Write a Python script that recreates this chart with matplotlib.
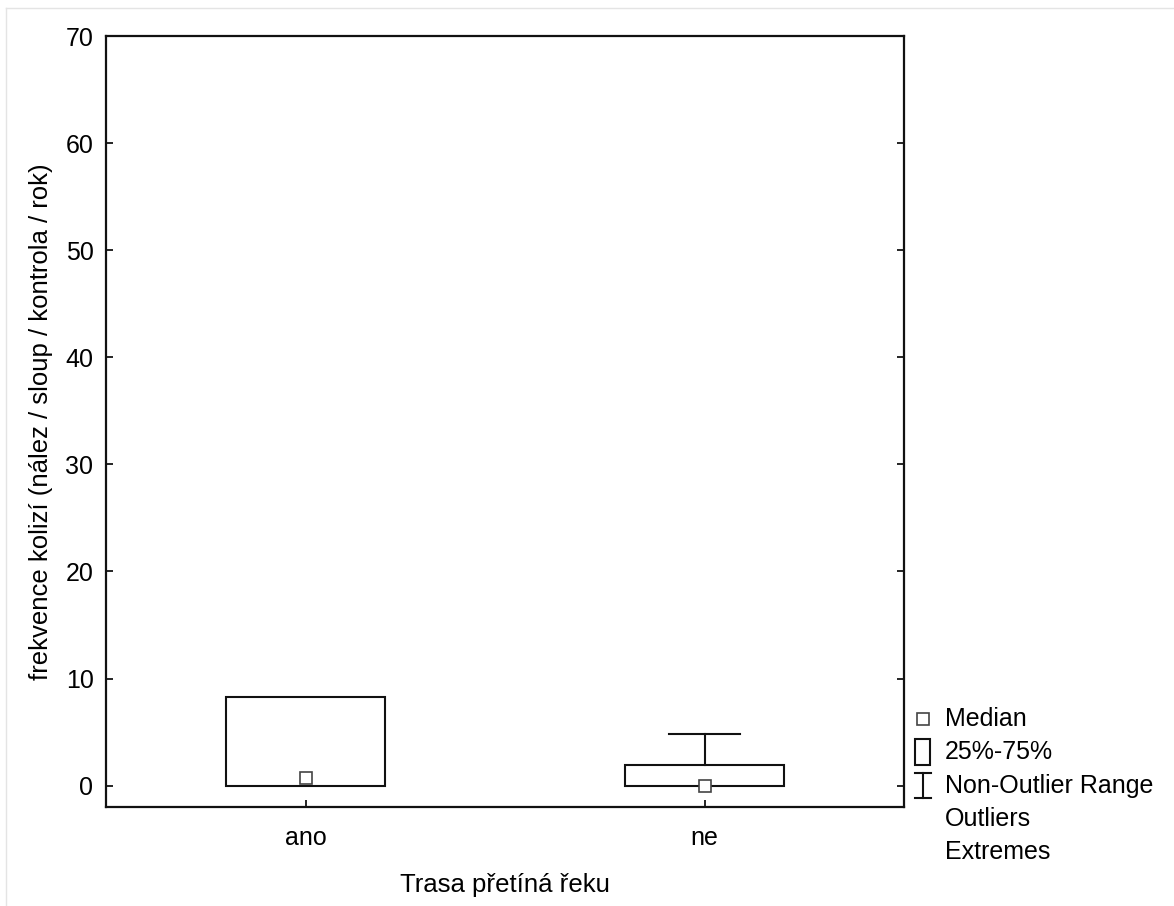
import numpy as np
import matplotlib
matplotlib.use("Agg")
import matplotlib.pyplot as plt
from matplotlib.lines import Line2D
from matplotlib.patches import Rectangle

plt.rcParams['font.family'] = ['Liberation Sans', 'DejaVu Sans']

# data
categories = ["ano", "ne"]
q25 = [0.0, 0.0]
q75 = [8.3, 1.9]
medians = [0.75, 0.0]
whisk_lo = [0.0, 0.0]
whisk_hi = [8.3, 4.8]

legend_labels = ["Median", "25%-75%", "Non-Outlier Range", "Outliers", "Extremes"]

fig = plt.figure(figsize=(11.74, 9.06), dpi=100)
ax = fig.add_axes([106/1174, 1-807/906, (904-106)/1174, (807-36)/906])

box_w = 0.4
cap_w = 0.18
lw = 1.5
for i, cat in enumerate(categories):
    ax.add_patch(Rectangle((i - box_w/2, q25[i]), box_w, q75[i] - q25[i],
                           facecolor='white', edgecolor='#111111', lw=lw, zorder=2))
    if whisk_hi[i] > q75[i]:
        ax.plot([i, i], [q75[i], whisk_hi[i]], color='#111111', lw=lw, zorder=2)
        ax.plot([i - cap_w/2, i + cap_w/2], [whisk_hi[i], whisk_hi[i]], color='#111111', lw=lw, zorder=2)
    if whisk_lo[i] < q25[i]:
        ax.plot([i, i], [whisk_lo[i], q25[i]], color='#111111', lw=lw, zorder=2)
        ax.plot([i - cap_w/2, i + cap_w/2], [whisk_lo[i], whisk_lo[i]], color='#111111', lw=lw, zorder=2)
    ax.plot(i, medians[i], marker='s', ms=9, mfc='white', mec='#444444', mew=1.2, zorder=3, clip_on=False)

ax.set_xlim(-0.5, 1.5)
ax.set_ylim(-2, 70)
ax.set_xticks(range(len(categories)))
ax.set_xticklabels(categories)
ax.set_yticks(np.arange(0, 71, 10))
ax.tick_params(axis='both', direction='in', length=5, width=1.2, labelsize=18)
ax.tick_params(axis='y', right=True, pad=9)
ax.tick_params(axis='x', pad=14)
for s in ax.spines.values():
    s.set_linewidth(1.6)
    s.set_color('#111111')

ax.set_xlabel("Trasa přetíná řeku", fontsize=18.5, labelpad=16)
ax.set_ylabel("frekvence kolizí (nález / sloup / kontrola / rok)", fontsize=18.5, labelpad=9)

# legend drawn in figure pixels
def fx(px):
    return px / 1174
def fy(py):
    return 1 - py / 906

text_y = [719, 752, 786, 819, 852]
for lab, ty in zip(legend_labels, text_y):
    fig.text(fx(945), fy(ty), lab, fontsize=18, va='center', ha='left')

fig.add_artist(Line2D([fx(923)], [fy(719)], marker='s', ms=8, mfc='white', mec='#444444', mew=1.2))
fig.add_artist(Rectangle((fx(915), fy(765)), fx(15), 26/906, facecolor='white', edgecolor='#111111', lw=1.5))
fig.add_artist(Line2D([fx(923), fx(923)], [fy(773), fy(798)], color='#111111', lw=1.5))
fig.add_artist(Line2D([fx(915), fx(931)], [fy(773), fy(773)], color='#111111', lw=1.5))
fig.add_artist(Line2D([fx(915), fx(931)], [fy(798), fy(798)], color='#111111', lw=1.5))

# faint outer frame
fig.add_artist(Line2D([fx(6), fx(1174)], [fy(8), fy(8)], color='#e4e4e4', lw=1))
fig.add_artist(Line2D([fx(6), fx(6)], [fy(8), fy(906)], color='#e4e4e4', lw=1))

fig.savefig("out.png", dpi=100)
